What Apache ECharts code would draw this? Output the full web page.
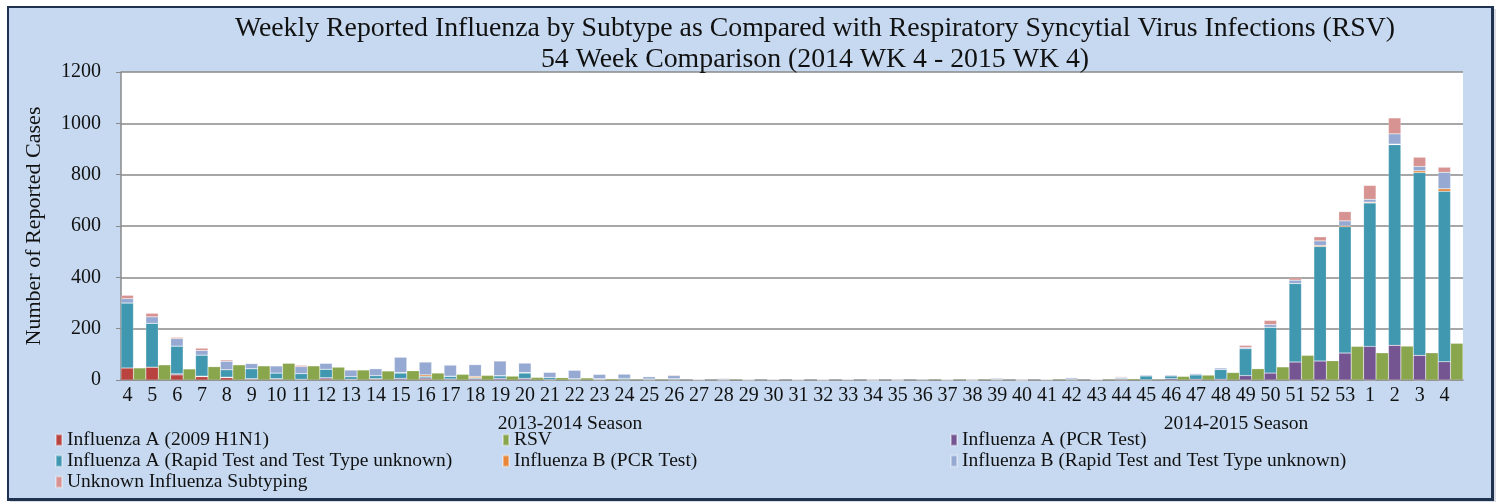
<!DOCTYPE html>
<html>
<head>
<meta charset="utf-8">
<script src="https://cdn.jsdelivr.net/npm/echarts@6/dist/echarts.min.js"></script>
<style>html,body{margin:0;padding:0;background:#fff;}#c{width:1504px;height:503px;}</style>
</head>
<body>
<div id="c"></div>
<script>
const weeks = ['4','5','6','7','8','9','10','11','12','13','14','15','16','17','18','19','20','21','22','23','24','25','26','27','28','29','30','31','32','33','34','35','36','37','38','39','40','41','42','43','44','45','46','47','48','49','50','51','52','53','1','2','3','4'];
const yTicks = [0, 200, 400, 600, 800, 1000, 1200];
const seasons = ['2013-2014 Season', '2014-2015 Season'];

const fluAH1N1 = [47,50,20,13,9,3,3,2,4,1,3,1,3,1,1,1,1,0,0,0,0,0,0,0,0,0,0,0,0,0,0,0,0,0,0,0,0,0,0,0,0,0,0,0,0,0,0,0,0,0,0,0,0,0];
const fluAPCR = [0,0,4,2,2,2,2,1,5,2,2,5,5,3,4,5,5,2,2,2,2,1,2,1,0,0,1,0,0,1,0,0,1,0,0,1,0,1,1,1,3,1,5,3,3,17,27,70,74,105,131,135,96,71];
const fluARapid = [253,171,108,82,29,39,22,22,33,10,12,21,6,10,4,10,21,8,3,2,5,3,3,1,2,1,1,1,1,1,0,0,3,1,0,1,0,1,3,1,4,15,11,17,38,105,178,306,446,492,559,782,712,664];
const fluBPCR = [0,0,0,0,0,0,0,0,0,0,0,2,6,1,5,1,2,0,0,1,0,0,0,0,0,0,0,0,0,0,0,0,0,0,0,0,0,0,0,0,0,0,0,0,0,0,0,0,4,4,3,2,7,10];
const fluBRapid = [17,25,29,18,33,20,28,27,23,26,27,60,50,43,46,57,37,20,33,17,16,9,12,2,4,1,1,1,1,2,1,1,0,1,1,5,1,1,5,1,3,4,4,5,6,5,11,13,18,19,11,40,17,64];
const fluUnknown = [13,14,5,9,5,2,0,5,1,0,0,1,2,2,0,2,1,0,1,2,0,0,3,0,1,0,0,0,0,0,0,0,0,0,0,0,0,0,0,0,3,0,0,2,0,8,16,9,16,36,54,62,36,20];
const rsv = [47,59,43,52,59,55,65,55,50,39,35,36,27,22,18,15,10,9,8,5,3,3,2,2,3,2,2,2,2,2,2,2,3,3,3,2,2,3,2,3,5,3,14,19,29,44,51,96,75,131,106,132,106,143];

const names = {
  h1n1: 'Influenza A (2009 H1N1)',
  rsv: 'RSV',
  apcr: 'Influenza A (PCR Test)',
  arapid: 'Influenza A (Rapid Test and Test Type unknown)',
  bpcr: 'Influenza B (PCR Test)',
  brapid: 'Influenza B (Rapid Test and Test Type unknown)',
  unk: 'Unknown Influenza Subtyping'
};
const colors = {
  h1n1: '#b8433f', rsv: '#8aa64d', apcr: '#745592', arapid: '#4097b0',
  bpcr: '#e8873a', brapid: '#95a9d2', unk: '#d79391'
};

const FONT = 'Liberation Serif';
const chart = echarts.init(document.getElementById('c'), null, {renderer: 'canvas'});

function bar(key, data, stack) {
  return {
    name: names[key], type: 'bar', stack: stack, data: data,
    barGap: '0%', barCategoryGap: '0%',
    itemStyle: {color: colors[key], borderColor: 'rgba(255,255,255,0.35)', borderWidth: 0.5},
    emphasis: {disabled: true}
  };
}

const legendCommon = {
  orient: 'vertical', top: 430, padding: 0, itemWidth: 6, itemHeight: 11, itemGap: 1,
  icon: 'rect', selectedMode: false,
  textStyle: {fontFamily: FONT, fontSize: 19.5, lineHeight: 16, color: '#111'}
};

chart.setOption({
  animation: false,
  backgroundColor: '#fff',
  graphic: [
    {type: 'rect', shape: {x: 10, y: 9, width: 1486, height: 493}, style: {fill: '#d9dde3'}, z: -20},
    {type: 'rect', shape: {x: 7, y: 6, width: 1487, height: 495}, style: {fill: '#1f3350'}, z: -19},
    {type: 'rect', shape: {x: 9, y: 8, width: 1482, height: 490}, style: {fill: '#c6d9f0'}, z: -18},
    {type: 'text', x: 570, y: 424, style: {text: seasons[0], fontFamily: FONT, fontSize: 19.5, fill: '#111', align: 'center', verticalAlign: 'middle'}},
    {type: 'text', x: 1236, y: 424, style: {text: seasons[1], fontFamily: FONT, fontSize: 19.5, fill: '#111', align: 'center', verticalAlign: 'middle'}}
  ],
  title: {
    text: 'Weekly Reported Influenza by Subtype as Compared with Respiratory Syncytial Virus Infections (RSV)\n54 Week Comparison (2014 WK 4 - 2015 WK 4)',
    left: 810, top: 8, textAlign: 'center',
    textStyle: {fontFamily: FONT, fontSize: 27.8, fontWeight: 'normal', color: '#111', lineHeight: 31}
  },
  legend: [
    Object.assign({left: 55, data: [names.h1n1, names.arapid, names.unk]}, legendCommon),
    Object.assign({left: 502, data: [names.rsv, names.bpcr]}, legendCommon),
    Object.assign({left: 950, data: [names.apcr, names.brapid]}, legendCommon)
  ],
  grid: {left: 121, right: 41, top: 72, bottom: 123, show: true, backgroundColor: '#fff', borderWidth: 0},
  xAxis: {
    type: 'category', data: weeks,
    axisLine: {show: true, lineStyle: {color: '#8a8a8a', width: 1.5}},
    axisTick: {show: false},
    axisLabel: {interval: 0, fontFamily: FONT, fontSize: 20, color: '#111', margin: 6, padding: [0, 12, 0, 0]}
  },
  yAxis: {
    type: 'value', min: yTicks[0], max: yTicks[yTicks.length - 1], interval: 200,
    name: 'Number of Reported Cases', nameLocation: 'middle', nameGap: 76, nameRotate: 90,
    nameTextStyle: {fontFamily: FONT, fontSize: 22, color: '#111'},
    axisLine: {show: true, lineStyle: {color: '#8a8a8a', width: 1.5}},
    axisTick: {show: true, inside: false, length: 5, lineStyle: {color: '#8a8a8a'}},
    axisLabel: {fontFamily: FONT, fontSize: 20, color: '#111', margin: 20, formatter: v => String(v)},
    splitLine: {show: true, lineStyle: {color: '#8a8a8a', width: 1.5}}
  },
  series: [
    bar('h1n1', fluAH1N1, 'flu'),
    bar('apcr', fluAPCR, 'flu'),
    bar('arapid', fluARapid, 'flu'),
    bar('bpcr', fluBPCR, 'flu'),
    bar('brapid', fluBRapid, 'flu'),
    bar('unk', fluUnknown, 'flu'),
    bar('rsv', rsv, 'rsv')
  ]
});
</script>
</body>
</html>
